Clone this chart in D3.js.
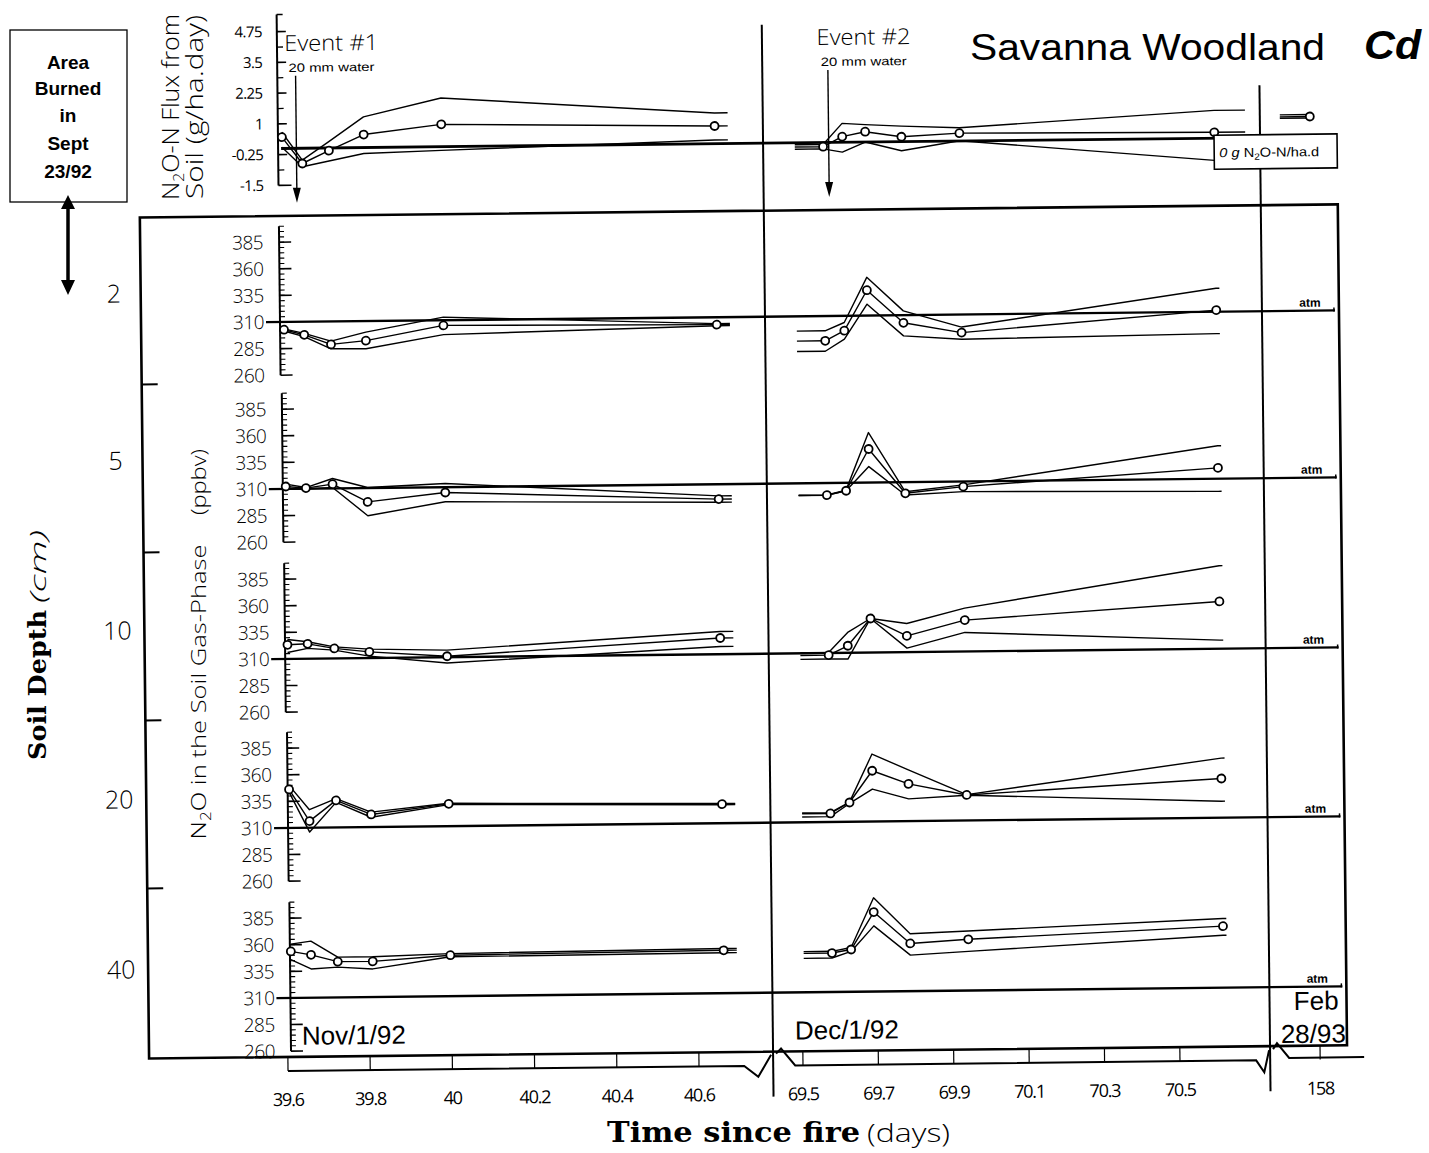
<!DOCTYPE html>
<html>
<head>
<meta charset="utf-8">
<script src="https://cdn.jsdelivr.net/npm/d3@7"></script>
<style>
  body { margin: 0; background: #fff; }
  svg { display: block; }
</style>
</head>
<body>
<svg id="chart" width="1429" height="1153"></svg>
<script>
// ---- sampling days (days since the fire) ----
const novDays = [39.61, 39.659, 39.724, 39.809, 39.998, 40.663];
const decDays = [69.58, 69.631, 69.692, 69.788, 69.942, 70.618];
const febDays = [158];

// ---- N2O-N flux from soil (g/ha.day): mean and range ----
const fluxNovMean = [0.46, -0.62, -0.11, 0.53, 0.91, 0.72];
const fluxNovHigh = [0.66, -0.48, 0.26, 1.25, 1.98, 1.25];
const fluxNovLow  = [0.05, -0.75, -0.53, -0.24, -0.15, 0.15];
const fluxDecMean = [-0.17, 0.23, 0.42, 0.2, 0.32, 0.24];
const fluxDecHigh = [-0.08, 0.77, 0.71, 0.63, 0.54, 1.13];
const fluxDecLow  = [-0.26, -0.4, 0.0, -0.37, 0.01, -0.9];
const fluxFebMean = [0.84];
const fluxFebHigh = [0.92];
const fluxFebLow  = [0.78];

// ---- N2O in the soil gas phase (ppbv), one row per depth ----
const depthLabels = ["2", "5", "10", "20", "40"];
const novMean = [
  [302.7, 297.7, 288.4, 291.6, 305.1, 303.0],
  [312.3, 310.6, 314.0, 297.0, 305.0, 296.0],
  [323.3, 324.0, 319.4, 315.8, 310.9, 325.2],
  [346.2, 316.2, 335.4, 321.8, 331.0, 327.9],
  [353.7, 350.3, 343.6, 343.5, 348.5, 350.3]
];
const novHigh = [
  [303.5, 299.0, 291.5, 299.6, 312.9, 304.0],
  [314.5, 311.1, 319.3, 310.5, 313.5, 299.0],
  [328.3, 325.9, 320.9, 318.4, 316.6, 331.3],
  [350.0, 326.9, 337.0, 324.0, 331.5, 328.5],
  [360.6, 363.2, 347.9, 347.9, 350.0, 352.0]
];
const novLow = [
  [301.5, 296.0, 284.3, 284.0, 296.4, 302.0],
  [309.8, 309.6, 310.9, 284.0, 296.3, 293.0],
  [316.1, 319.7, 317.8, 311.8, 304.6, 317.2],
  [343.6, 305.9, 333.5, 319.2, 330.3, 327.3],
  [346.0, 337.0, 338.5, 336.4, 347.0, 348.0]
];
const decMean = [
  [286.7, 296.0, 333.8, 302.8, 293.0, 311.5],
  [298.6, 302.5, 341.5, 299.5, 305.2, 320.2],
  [308.0, 316.6, 342.0, 325.3, 339.5, 354.4],
  [318.0, 328.1, 357.7, 345.0, 334.0, 346.8],
  [346.6, 349.7, 384.7, 354.8, 358.1, 367.8]
];
const decHigh = [
  [296.1, 303.7, 345.9, 314.0, 298.2, 332.0],
  [298.8, 303.1, 357.0, 300.9, 306.8, 341.0],
  [310.5, 329.1, 342.0, 336.9, 350.8, 388.0],
  [318.8, 328.5, 373.4, 358.1, 334.3, 366.0],
  [348.2, 351.6, 398.1, 363.9, 365.9, 375.0]
];
const decLow = [
  [276.9, 288.1, 320.7, 290.5, 286.8, 289.4],
  [298.4, 302.5, 325.0, 297.9, 300.5, 298.1],
  [304.3, 304.1, 342.0, 313.8, 327.9, 318.0],
  [315.0, 327.2, 340.5, 330.9, 333.7, 325.5],
  [341.9, 347.9, 371.7, 343.8, 346.7, 359.3]
];

// ---- axes ----
const atmPpbv = 310;
const ppbvTicks = [260, 285, 310, 335, 360, 385];
const fluxTicks = [4.75, 3.5, 2.25, 1, -0.25, -1.5];
const novTicks = [39.6, 39.8, 40, 40.2, 40.4, 40.6];
const decTicks = [69.5, 69.7, 69.9, 70.1, 70.3, 70.5];
const febTicks = [158];
const dateLabels = ["Nov/1/92", "Dec/1/92"];
const events = [
  { name: "Event #1", note: "20 mm water", day: 39.645 },
  { name: "Event #2", note: "20 mm water", day: 69.595 }
];

// short flat extensions drawn before / after each sampling run
const novEnd = 40.695, decStart = 69.505, decEnd = 70.627, fluxDecEnd = 70.70, febStart = 157.9;

// ---- layout ----
const NUM_FONT = "'Open Sans', 'DejaVu Sans', sans-serif";
const svg = d3.select("#chart");

// broken time axis: three scales, one per sampling period
const xNov = d3.scaleLinear().domain([39.6, 40.6]).range([279.8, 690.8]);
const xDec = d3.scaleLinear().domain([69.5, 70.5]).range([794.8, 1171.8]);
const xFeb = d3.scaleLinear().domain([157.9, 158.1]).range([1282, 1342]);

const yFlux = d3.scaleLinear().domain([0, 1]).range([148.5, 123.9]);
const panelBase = [322, 489, 659, 828, 998];
const panelAxisX = [280, 281, 281.5, 282.5, 283];
const yPanel = panelBase.map(b => d3.scaleLinear().domain([310, 410]).range([b, b - 106.4]));

// the pasted-up figure sits at a slight tilt
const g = svg.append("g").attr("transform", "rotate(-0.63 280 322)");

// outer frame of the concentration panels
g.append("rect").attr("x", 141).attr("y", 216).attr("width", 1198).attr("height", 841)
  .attr("fill", "none").attr("stroke", "#000").attr("stroke-width", 2.6);
[383, 551, 719, 887].forEach(y => {
  g.append("line").attr("x1", 141).attr("x2", 157).attr("y1", y).attr("y2", y)
    .attr("stroke", "#000").attr("stroke-width", 2);
});

// period dividers
g.append("line").attr("x1", 765).attr("x2", 765).attr("y1", 30).attr("y2", 1102)
  .attr("stroke", "#000").attr("stroke-width", 2);
g.append("line").attr("x1", 1262).attr("x2", 1262).attr("y1", 96).attr("y2", 1102)
  .attr("stroke", "#000").attr("stroke-width", 2);

const lineGen = (xs, ys) => d3.line().x(d => xs(d[0])).y(d => ys(d[1]));
function drawRun(parent, xs, ys, days, vals, opts) {
  const pts = days.map((d, i) => [d, vals[i]]);
  if (opts.lead != null) pts.unshift([opts.lead, vals[0]]);
  if (opts.tail != null) pts.push([opts.tail, vals[vals.length - 1]]);
  parent.append("path").attr("d", lineGen(xs, ys)(pts))
    .attr("fill", "none").attr("stroke", "#000")
    .attr("stroke-width", opts.w || 1.4).attr("stroke-linejoin", "round");
}
function drawDots(parent, xs, ys, days, vals) {
  parent.selectAll(null).data(days.map((d, i) => [d, vals[i]])).enter().append("circle")
    .attr("cx", d => xs(d[0])).attr("cy", d => ys(d[1])).attr("r", 4)
    .attr("fill", "#fff").attr("stroke", "#000").attr("stroke-width", 1.8);
}

// ================= flux panel =================
const fx = 280;
g.append("line").attr("x1", fx).attr("x2", fx).attr("y1", yFlux(5.45)).attr("y2", yFlux(-1.5))
  .attr("stroke", "#000").attr("stroke-width", 2);
g.append("line").attr("x1", fx).attr("x2", fx + 6).attr("y1", yFlux(5.45)).attr("y2", yFlux(5.45))
  .attr("stroke", "#000").attr("stroke-width", 1.5);
fluxTicks.forEach((v, i) => {
  g.append("line").attr("x1", fx).attr("x2", fx + (i === fluxTicks.length - 1 ? 13 : 9))
    .attr("y1", yFlux(v)).attr("y2", yFlux(v)).attr("stroke", "#000").attr("stroke-width", 1.6);
  if (i > 0) {
    const m = (v + fluxTicks[i - 1]) / 2;
    g.append("line").attr("x1", fx).attr("x2", fx + 6).attr("y1", yFlux(m)).attr("y2", yFlux(m))
      .attr("stroke", "#000").attr("stroke-width", 1.3);
  }
  g.append("text").attr("x", fx - 15).attr("y", yFlux(v)).attr("dy", "0.35em")
    .attr("text-anchor", "end").attr("font-family", NUM_FONT).attr("font-size", 15)
    .attr("letter-spacing", -0.6).text(String(v));
});

// zero-flux reference line
g.append("line").attr("x1", 283).attr("x2", 1339).attr("y1", yFlux(0)).attr("y2", yFlux(0))
  .attr("stroke", "#000").attr("stroke-width", 2.8);

const fluxG = g.append("g");
drawRun(fluxG, xNov, yFlux, novDays, fluxNovHigh, { tail: novEnd });
drawRun(fluxG, xNov, yFlux, novDays, fluxNovLow, { tail: novEnd });
drawRun(fluxG, xNov, yFlux, novDays, fluxNovMean, { tail: novEnd });
drawRun(fluxG, xDec, yFlux, decDays, fluxDecHigh, { lead: decStart, tail: fluxDecEnd });
drawRun(fluxG, xDec, yFlux, decDays, fluxDecLow, { lead: decStart, tail: fluxDecEnd });
drawRun(fluxG, xDec, yFlux, decDays, fluxDecMean, { lead: decStart, tail: fluxDecEnd });
drawRun(fluxG, xFeb, yFlux, febDays, fluxFebHigh, { lead: febStart });
drawRun(fluxG, xFeb, yFlux, febDays, fluxFebLow, { lead: febStart });
drawRun(fluxG, xFeb, yFlux, febDays, fluxFebMean, { lead: febStart });
drawDots(fluxG, xNov, yFlux, novDays, fluxNovMean);
drawDots(fluxG, xDec, yFlux, decDays, fluxDecMean);
drawDots(fluxG, xFeb, yFlux, febDays, fluxFebMean);

// zero-flux note box
g.append("rect").attr("x", 1216).attr("y", yFlux(0) - 3).attr("width", 123).attr("height", 34)
  .attr("fill", "#fff").attr("stroke", "#000").attr("stroke-width", 1.6);
const zt = g.append("text").attr("x", 1221).attr("y", yFlux(0) + 19)
  .attr("font-family", "'Liberation Sans Narrow', 'Liberation Sans', sans-serif").attr("font-size", 13)
  .attr("textLength", 100).attr("lengthAdjust", "spacingAndGlyphs");
zt.append("tspan").attr("font-style", "italic").text("0 g ");
zt.append("tspan").text("N");
zt.append("tspan").attr("font-size", 9).attr("dy", 3).text("2");
zt.append("tspan").attr("dy", -3).text("O-N/ha.d");

// rain events
events.forEach(ev => {
  const x = ev.day < 60 ? xNov(ev.day) : xDec(ev.day);
  g.append("line").attr("x1", x).attr("x2", x).attr("y1", 76).attr("y2", 190)
    .attr("stroke", "#000").attr("stroke-width", 1.4);
  g.append("path").attr("d", `M${x - 4},188 L${x + 4},188 L${x},203 Z`).attr("fill", "#000");
  g.append("text").attr("x", x - 11).attr("y", 51).attr("font-family", NUM_FONT)
    .attr("font-weight", 300).attr("font-size", 22).attr("textLength", 94)
    .attr("lengthAdjust", "spacingAndGlyphs").text(ev.name);
  g.append("text").attr("x", x - 7).attr("y", 72)
    .attr("font-family", "'Liberation Sans', sans-serif").attr("font-size", 12)
    .attr("textLength", 86).attr("lengthAdjust", "spacingAndGlyphs").text(ev.note);
});

// ================= concentration panels =================
depthLabels.forEach((lab, k) => {
  const y = yPanel[k];
  const ax = panelAxisX[k];
  const pg = g.append("g");

  // ruler-style ppbv axis
  pg.append("line").attr("x1", ax).attr("x2", ax).attr("y1", y(260)).attr("y2", y(400))
    .attr("stroke", "#000").attr("stroke-width", 2);
  d3.range(265, 401, 5).forEach(v => {
    pg.append("line").attr("x1", ax).attr("x2", ax + 5).attr("y1", y(v)).attr("y2", y(v))
      .attr("stroke", "#000").attr("stroke-width", 1.1);
  });
  ppbvTicks.forEach(v => {
    pg.append("line").attr("x1", ax).attr("x2", ax + 12).attr("y1", y(v)).attr("y2", y(v))
      .attr("stroke", "#000").attr("stroke-width", 1.6);
    pg.append("text").attr("x", ax - 16).attr("y", y(v)).attr("dy", "0.36em")
      .attr("text-anchor", "end").attr("font-family", NUM_FONT).attr("font-weight", 300)
      .attr("font-size", 19).attr("letter-spacing", -0.5).text(v);
  });

  // atmospheric level
  pg.append("line").attr("x1", ax - 14).attr("x2", 1335).attr("y1", y(atmPpbv)).attr("y2", y(atmPpbv))
    .attr("stroke", "#000").attr("stroke-width", 2.4);
  pg.append("line").attr("x1", 1334).attr("x2", 1334).attr("y1", y(atmPpbv) - 3).attr("y2", y(atmPpbv) + 1)
    .attr("stroke", "#000").attr("stroke-width", 1.5);
  pg.append("text").attr("x", 1310).attr("y", y(atmPpbv) - 4).attr("text-anchor", "middle")
    .attr("font-family", "'Liberation Sans', sans-serif").attr("font-weight", "bold")
    .attr("font-size", 12).text("atm");

  // soil depth label
  pg.append("text").attr("x", 114).attr("y", y(atmPpbv) - 30).attr("dy", "0.35em")
    .attr("text-anchor", "middle").attr("font-family", NUM_FONT).attr("font-weight", 300)
    .attr("font-size", 25).text(lab);

  // measurement runs
  drawRun(pg, xNov, y, novDays, novHigh[k], { tail: novEnd });
  drawRun(pg, xNov, y, novDays, novLow[k], { tail: novEnd });
  drawRun(pg, xNov, y, novDays, novMean[k], { tail: novEnd });
  drawRun(pg, xDec, y, decDays, decHigh[k], { lead: decStart, tail: decEnd });
  drawRun(pg, xDec, y, decDays, decLow[k], { lead: decStart, tail: decEnd });
  drawRun(pg, xDec, y, decDays, decMean[k], { lead: decStart, tail: decEnd });
  drawDots(pg, xNov, y, novDays, novMean[k]);
  drawDots(pg, xDec, y, decDays, decMean[k]);
});

// date captions in the bottom panel
g.append("text").attr("x", 294).attr("y", 1045).attr("font-family", "'Liberation Sans', sans-serif")
  .attr("font-size", 26).text(dateLabels[0]);
g.append("text").attr("x", 787).attr("y", 1045).attr("font-family", "'Liberation Sans', sans-serif")
  .attr("font-size", 26).text(dateLabels[1]);
g.append("text").attr("x", 1331).attr("y", 1021).attr("text-anchor", "end")
  .attr("font-family", "'Liberation Sans', sans-serif").attr("font-size", 26).text("Feb");
g.append("text").attr("x", 1338).attr("y", 1054).attr("text-anchor", "end")
  .attr("font-family", "'Liberation Sans', sans-serif").attr("font-size", 26).text("28/93");

// ================= broken time axis =================
const axY = 1071, frameBottom = 1057;
const axisPath = [
  `M${xNov(39.6)},${axY} H736 L750,1082 L763,1060`,
  `M768,1059 L773,1054 L787,${axY} H1248 L1256,1083 L1261,1061`,
  `M1265,1060 L1269,1054 L1281,${axY - 2} H1356`
];
axisPath.forEach(d => g.append("path").attr("d", d).attr("fill", "none")
  .attr("stroke", "#000").attr("stroke-width", 2));
[[xNov, novTicks], [xDec, decTicks], [xFeb, febTicks]].forEach(([xs, ticks]) => {
  ticks.forEach(t => {
    g.append("line").attr("x1", xs(t)).attr("x2", xs(t)).attr("y1", axY).attr("y2", frameBottom)
      .attr("stroke", "#000").attr("stroke-width", 1.2);
    g.append("text").attr("x", xs(t)).attr("y", 1106).attr("text-anchor", "middle")
      .attr("font-family", NUM_FONT).attr("font-size", 18)
      .attr("letter-spacing", -1.2).text(String(t));
  });
});

// ================= untilted labels =================
// burn box
svg.append("rect").attr("x", 10).attr("y", 30).attr("width", 117).attr("height", 172)
  .attr("fill", "none").attr("stroke", "#000").attr("stroke-width", 1.3);
[["Area", 69], ["Burned", 95], ["in", 122], ["Sept", 150], ["23/92", 178]].forEach(([t, y]) => {
  svg.append("text").attr("x", 68).attr("y", y).attr("text-anchor", "middle")
    .attr("font-family", "'Liberation Sans', Arial, sans-serif").attr("font-weight", "bold")
    .attr("font-size", 19).text(t);
});
svg.append("line").attr("x1", 68).attr("x2", 68).attr("y1", 205).attr("y2", 283)
  .attr("stroke", "#000").attr("stroke-width", 3.5);
svg.append("path").attr("d", "M61,209 L75,209 L68,195 Z M61,280 L75,280 L68,295 Z").attr("fill", "#000");

// titles
svg.append("text").attr("x", 970).attr("y", 60).attr("font-family", "'Liberation Sans', Arial, sans-serif")
  .attr("font-size", 37).attr("textLength", 355).attr("lengthAdjust", "spacingAndGlyphs")
  .text("Savanna Woodland");
svg.append("text").attr("x", 1364).attr("y", 59).attr("font-family", "'Liberation Sans', Arial, sans-serif")
  .attr("font-size", 40).attr("font-weight", "bold").attr("font-style", "italic")
  .attr("textLength", 57).attr("lengthAdjust", "spacingAndGlyphs").text("Cd");

// flux axis title (two lines)
const ft1 = svg.append("text").attr("transform", "translate(179,107) rotate(-90)")
  .attr("text-anchor", "middle").attr("font-family", NUM_FONT).attr("font-weight", 300)
  .attr("font-size", 24).attr("textLength", 186).attr("lengthAdjust", "spacingAndGlyphs");
ft1.append("tspan").text("N");
ft1.append("tspan").attr("font-size", 15).attr("dy", 5).text("2");
ft1.append("tspan").attr("dy", -5).text("O-N Flux from");
svg.append("text").attr("transform", "translate(203,107) rotate(-90)")
  .attr("text-anchor", "middle").attr("font-family", NUM_FONT).attr("font-weight", 300)
  .attr("font-size", 24).attr("textLength", 184).attr("lengthAdjust", "spacingAndGlyphs")
  .text("Soil  (g/ha.day)");

// concentration axis title
const ct = svg.append("text").attr("transform", "translate(206,692) rotate(-90)")
  .attr("text-anchor", "middle").attr("font-family", NUM_FONT).attr("font-weight", 300)
  .attr("font-size", 21).attr("textLength", 295).attr("lengthAdjust", "spacingAndGlyphs");
ct.append("tspan").text("N");
ct.append("tspan").attr("font-size", 14).attr("dy", 5).text("2");
ct.append("tspan").attr("dy", -5).text("O in the Soil Gas-Phase");
svg.append("text").attr("transform", "translate(206,482) rotate(-90)")
  .attr("text-anchor", "middle").attr("font-family", NUM_FONT).attr("font-weight", 300)
  .attr("font-size", 20).attr("textLength", 66).attr("lengthAdjust", "spacingAndGlyphs")
  .text("(ppbv)");

// soil depth title
svg.append("text").attr("transform", "translate(46,760) rotate(-90)")
  .attr("font-family", "'DejaVu Serif', serif").attr("font-weight", "bold").attr("font-size", 25)
  .attr("textLength", 150).attr("lengthAdjust", "spacingAndGlyphs").text("Soil Depth");
svg.append("text").attr("transform", "translate(46,603) rotate(-90)")
  .attr("font-family", NUM_FONT).attr("font-weight", 300).attr("font-style", "italic").attr("font-size", 22)
  .attr("textLength", 73).attr("lengthAdjust", "spacingAndGlyphs").text("(cm)");

// time axis title
svg.append("text").attr("x", 607).attr("y", 1142).attr("font-family", "'DejaVu Serif', serif")
  .attr("font-weight", "bold").attr("font-size", 27).attr("textLength", 253)
  .attr("lengthAdjust", "spacingAndGlyphs").text("Time since fire");
svg.append("text").attr("x", 867).attr("y", 1142).attr("font-family", NUM_FONT).attr("font-weight", 300)
  .attr("font-size", 25).attr("textLength", 83).attr("lengthAdjust", "spacingAndGlyphs").text("(days)");
</script>
</body>
</html>
